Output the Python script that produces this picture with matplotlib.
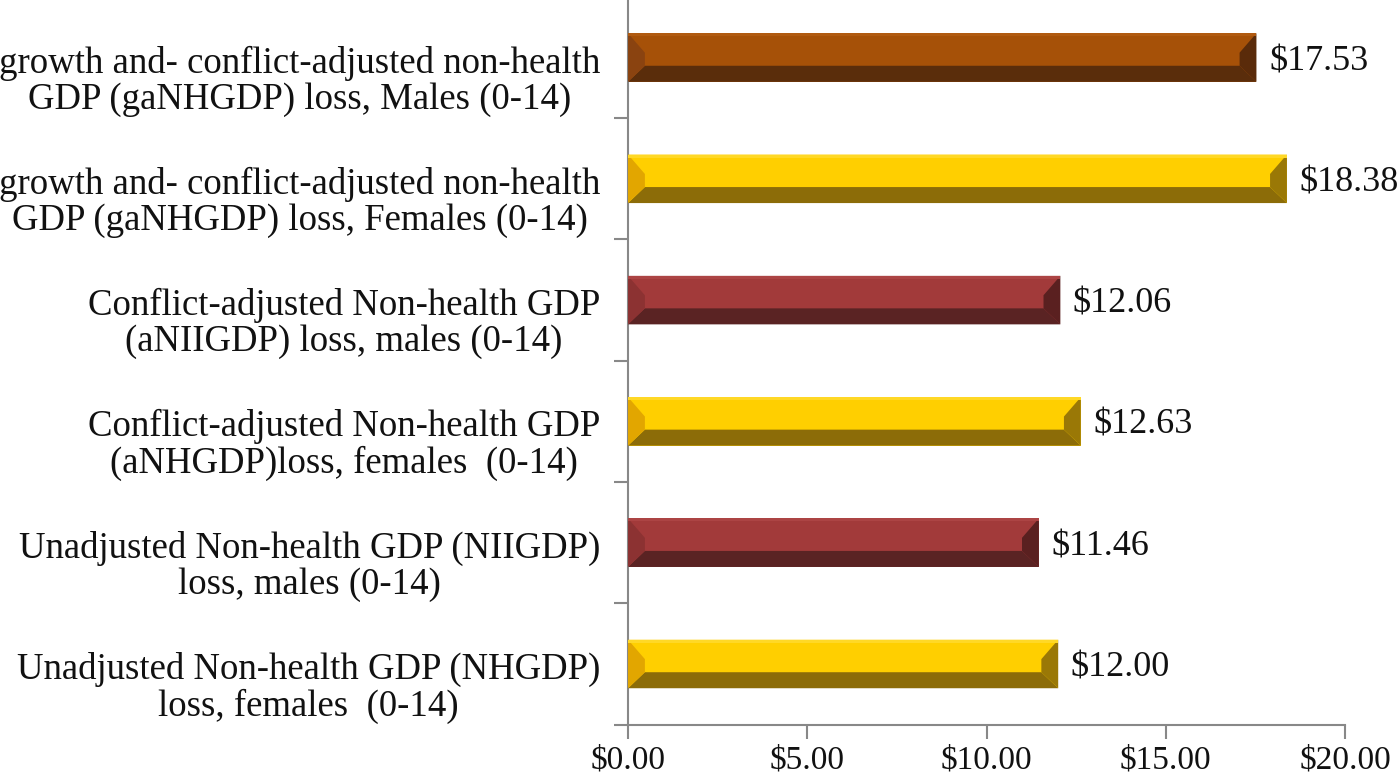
import matplotlib
matplotlib.use("Agg")
import matplotlib.pyplot as plt
from matplotlib.patches import Polygon, Rectangle
from matplotlib.ticker import FixedLocator, FuncFormatter
from matplotlib.transforms import ScaledTranslation

categories = [
    "Unadjusted Non-health GDP (NHGDP)\nloss, females  (0-14)",
    "Unadjusted Non-health GDP (NIIGDP)\nloss, males (0-14)",
    "Conflict-adjusted Non-health GDP\n(aNHGDP)loss, females  (0-14)",
    "Conflict-adjusted Non-health GDP\n(aNIIGDP) loss, males (0-14)",
    "growth and- conflict-adjusted non-health\nGDP (gaNHGDP) loss, Females (0-14)",
    "growth and- conflict-adjusted non-health\nGDP (gaNHGDP) loss, Males (0-14)",
]
values = [12.00, 11.46, 12.63, 12.06, 18.38, 17.53]
value_labels = ["$12.00", "$11.46", "$12.63", "$12.06", "$18.38", "$17.53"]
x_ticks = [0, 5, 10, 15, 20]

yellow = dict(face="#FFCF00", top="#FFD826", bottom="#8C6C08", left="#E2A600", right="#9A7806")
red = dict(face="#A23A3A", top="#AC4444", bottom="#5A2323", left="#8C3232", right="#5A2020")
orange = dict(face="#A65108", top="#B05A10", bottom="#5A2D0B", left="#8A4310", right="#5A2B0A")
palettes = [yellow, red, yellow, red, yellow, orange]

plt.rcParams["font.family"] = ["Liberation Serif", "DejaVu Serif"]

fig = plt.figure(figsize=(14, 7.8), dpi=100)
ax = fig.add_axes([0.4486, 0.071, 0.5121, 0.933])

h = 0.4
ypos = list(range(len(values)))
bars = ax.barh(ypos, values, height=h, color=[p["face"] for p in palettes], zorder=2)

bw = 0.47  # bevel width in data units
for bar, p in zip(bars, palettes):
    x0 = bar.get_x()
    x1 = x0 + bar.get_width()
    yb = bar.get_y()
    yt = yb + bar.get_height()
    hh = bar.get_height()
    ym_bot = yb + 0.33 * hh
    ym_top = yt - 0.40 * hh
    ax.add_patch(Polygon([(x0, yt), (x1, yt), (x1 - bw, ym_top), (x0 + bw, ym_top)],
                         closed=True, facecolor=p["face"], edgecolor="none", zorder=3))
    ax.add_patch(Polygon([(x0, yb), (x1, yb), (x1 - bw, ym_bot), (x0 + bw, ym_bot)],
                         closed=True, facecolor=p["bottom"], edgecolor="none", zorder=3))
    ax.add_patch(Polygon([(x0, yt), (x0 + bw, ym_top), (x0 + bw, ym_bot), (x0, yb)],
                         closed=True, facecolor=p["left"], edgecolor="none", zorder=3))
    ax.add_patch(Polygon([(x1, yt), (x1 - bw, ym_top), (x1 - bw, ym_bot), (x1, yb)],
                         closed=True, facecolor=p["right"], edgecolor="none", zorder=3))
    ax.add_patch(Rectangle((x0, yt - 0.025), x1 - x0, 0.025, facecolor=p["top"],
                           edgecolor="none", zorder=4))

for bar, lab in zip(bars, value_labels):
    ax.annotate(lab, (bar.get_width(), bar.get_y() + bar.get_height() / 2),
                xytext=(9, 0), textcoords="offset points", ha="left", va="center_baseline",
                fontsize=26, color="#111111", zorder=5)

ax.set_xlim(0, 20)
ax.set_ylim(-0.5, len(values) - 0.5)

ax.xaxis.set_major_locator(FixedLocator(x_ticks))
ax.xaxis.set_major_formatter(FuncFormatter(lambda v, pos: f"${v:.2f}"))
ax.tick_params(axis="x", direction="out", length=10, width=1.5, color="#888888",
               labelsize=24, pad=5, labelcolor="#111111")

ax.set_yticks(ypos)
ax.set_yticklabels(categories, fontsize=26.5, color="#111111", multialignment="center",
                   linespacing=1.05)
ax.tick_params(axis="y", which="major", length=0, pad=20)
ax.yaxis.set_minor_locator(FixedLocator([i - 0.5 for i in range(len(values))]))
ax.tick_params(axis="y", which="minor", direction="out", length=10, width=1.5, color="#888888")

shift = ScaledTranslation(0, -0.19, fig.dpi_scale_trans)
for t in ax.get_yticklabels():
    t.set_transform(t.get_transform() + shift)

for s in ["top", "right"]:
    ax.spines[s].set_visible(False)
for s in ["left", "bottom"]:
    ax.spines[s].set_color("#888888")
    ax.spines[s].set_linewidth(1.5)

fig.savefig("out.png", dpi=100)
